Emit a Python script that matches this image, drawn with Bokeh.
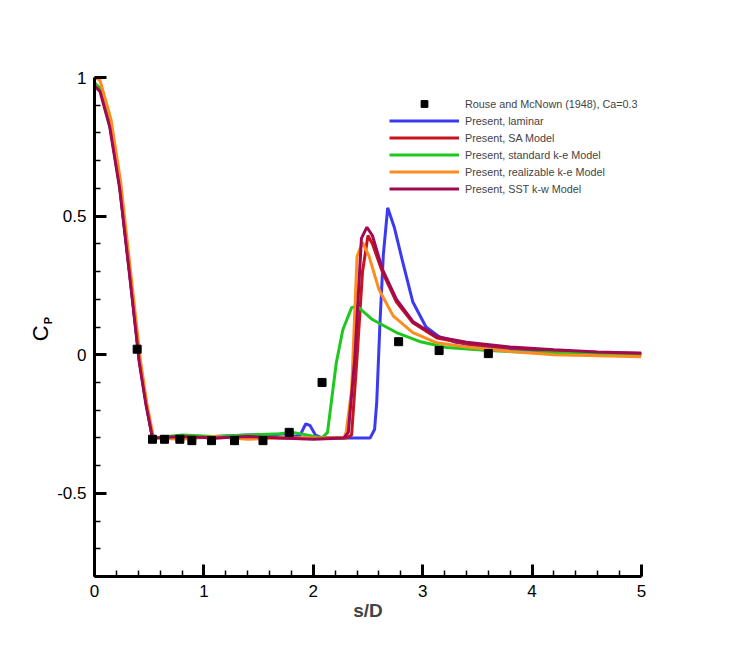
import math
from bokeh.plotting import figure
from bokeh.layouts import row
from bokeh.models import (Range1d, FixedTicker, Legend, LegendItem)
from bokeh.core.properties import value
from bokeh.embed import file_html
from bokeh.resources import INLINE

# ---------------- data ----------------
exp_s = [0.39, 0.53, 0.64, 0.78, 0.89, 1.07, 1.28, 1.54, 1.78, 2.08, 2.78, 3.15, 3.60]
exp_cp = [0.02, -0.305, -0.305, -0.305, -0.31, -0.31, -0.31, -0.31, -0.28, -0.10, 0.047, 0.015, 0.004]

lam_s = [0.0, 0.05, 0.14, 0.23, 0.32, 0.41, 0.47, 0.53, 0.8, 1.1, 1.4, 1.6, 1.75, 1.82, 1.88,
         1.93, 1.97, 2.02, 2.08, 2.3, 2.52, 2.56, 2.58, 2.61, 2.64, 2.68, 2.74, 2.82, 2.91,
         3.03, 3.15, 3.3, 3.6, 4.0, 4.5, 5.0]
lam_cp = [0.98, 0.96, 0.83, 0.61, 0.30, -0.02, -0.17, -0.30, -0.295, -0.295, -0.29, -0.29, -0.285,
          -0.295, -0.29, -0.25, -0.255, -0.29, -0.30, -0.30, -0.30, -0.27, -0.17, 0.12, 0.36, 0.53,
          0.46, 0.33, 0.19, 0.10, 0.065, 0.045, 0.025, 0.013, 0.007, 0.003]

sa_s = [0.0, 0.05, 0.14, 0.23, 0.32, 0.41, 0.47, 0.53, 0.8, 1.1, 1.4, 1.7, 2.0, 2.3, 2.35,
        2.40, 2.45, 2.50, 2.54, 2.63, 2.76, 2.91, 3.13, 3.4, 3.8, 4.2, 4.6, 5.0]
sa_cp = [0.98, 0.96, 0.83, 0.61, 0.30, -0.02, -0.17, -0.30, -0.295, -0.30, -0.295, -0.30, -0.30,
         -0.30, -0.29, -0.01, 0.30, 0.43, 0.40, 0.30, 0.19, 0.115, 0.06, 0.04, 0.025, 0.015,
         0.008, 0.005]

ke_s = [0.0, 0.05, 0.14, 0.23, 0.32, 0.41, 0.47, 0.53, 0.8, 1.1, 1.4, 1.7, 1.8, 1.95, 2.08,
        2.13, 2.21, 2.27, 2.35, 2.40, 2.54, 2.76, 2.97, 3.22, 3.6, 4.0, 4.5, 5.0]
ke_cp = [0.98, 0.96, 0.83, 0.61, 0.30, -0.02, -0.17, -0.30, -0.29, -0.295, -0.29, -0.285, -0.28,
         -0.29, -0.30, -0.28, -0.03, 0.09, 0.17, 0.175, 0.127, 0.08, 0.048, 0.026, 0.015,
         0.008, 0.004, 0.0]

rke_s = [0.0, 0.05, 0.15, 0.24, 0.33, 0.42, 0.48, 0.54, 0.8, 1.1, 1.4, 1.7, 2.0, 2.28, 2.30,
         2.35, 2.40, 2.45, 2.51, 2.60, 2.73, 2.91, 3.13, 3.4, 3.8, 4.2, 4.6, 5.0]
rke_cp = [1.0, 0.99, 0.85, 0.62, 0.30, -0.02, -0.18, -0.30, -0.305, -0.295, -0.305, -0.30, -0.30,
          -0.30, -0.28, -0.13, 0.355, 0.405, 0.355, 0.235, 0.14, 0.08, 0.043, 0.028, 0.012,
          0.0, -0.004, -0.007]

sst_s = [0.0, 0.05, 0.14, 0.23, 0.32, 0.41, 0.47, 0.53, 0.8, 1.1, 1.4, 1.7, 2.0, 2.28, 2.32,
         2.38, 2.44, 2.49, 2.54, 2.63, 2.76, 2.91, 3.13, 3.4, 3.8, 4.2, 4.6, 5.0]
sst_cp = [0.97, 0.95, 0.82, 0.60, 0.29, -0.03, -0.18, -0.30, -0.295, -0.30, -0.295, -0.30, -0.305,
          -0.30, -0.28, -0.01, 0.42, 0.46, 0.43, 0.31, 0.20, 0.12, 0.065, 0.045, 0.028, 0.018,
          0.01, 0.005]

x_ticks = [0, 1, 2, 3, 4, 5]
x_minor = [i / 5 for i in range(26)]
y_ticks = [-0.5, 0, 0.5, 1]
y_minor = [round(-0.8 + i / 10, 2) for i in range(19)]
y_tick_labels = {-0.5: "-0.5", 0: "0", 0.5: "0.5", 1: "1"}

labels = ["Rouse and McNown (1948), Ca=0.3", "Present, laminar", "Present, SA Model",
          "Present, standard k-e Model", "Present, realizable k-e Model",
          "Present, SST k-w Model"]
colors = ["#3a3af0", "#c8141e", "#1ec81e", "#ff8c1e", "#a00a50"]

# ---------------- layout ----------------
FONT = "Liberation Sans"
W, H = 715, 634
LW = 54          # width of the strip that carries the rotated y-axis title

# strip with the y-axis title "C" + subscript "P"
lab = figure(width=LW, height=H, output_backend="svg", toolbar_location=None,
             x_range=Range1d(0, LW), y_range=Range1d(0, H),
             x_axis_type=None, y_axis_type=None,
             min_border=0, min_border_left=0, min_border_right=0,
             min_border_top=0, min_border_bottom=0)
lab.outline_line_color = None
lab.xgrid.visible = False
lab.ygrid.visible = False
lab.background_fill_color = "white"
lab.border_fill_color = "white"
lab.text(x=[40], y=[H - 325], text=["C"], angle=math.pi / 2,
         text_align="center", text_baseline="middle",
         text_font=value(FONT), text_font_size=value("22px"), text_color="black")
lab.text(x=[47], y=[H - 309], text=["P"], angle=math.pi / 2,
         text_align="center", text_baseline="middle",
         text_font=value(FONT), text_font_size=value("11px"), text_font_style="bold",
         text_color="black")

p = figure(width=W - LW, height=H, output_backend="svg", toolbar_location=None,
           x_range=Range1d(0, 5), y_range=Range1d(-0.8, 1.0),
           min_border_left=94 - LW, min_border_right=74, min_border_top=77, min_border_bottom=58)
p.outline_line_color = None
p.xgrid.visible = False
p.ygrid.visible = False
p.background_fill_color = "white"
p.border_fill_color = "white"

for ax in (p.xaxis[0], p.yaxis[0]):
    ax.axis_line_width = 3
    ax.axis_line_color = "black"
    ax.major_tick_in = 12
    ax.major_tick_out = 0
    ax.minor_tick_in = 6
    ax.minor_tick_out = 0
    ax.major_tick_line_width = 3
    ax.minor_tick_line_width = 1.5
    ax.major_label_text_font = FONT
    ax.major_label_text_font_size = "17px"
    ax.major_label_text_color = "black"
    ax.major_label_standoff = 8

p.xaxis[0].ticker = FixedTicker(ticks=x_ticks, minor_ticks=x_minor)
p.yaxis[0].ticker = FixedTicker(ticks=y_ticks, minor_ticks=y_minor)
p.yaxis[0].major_label_overrides = y_tick_labels
p.xaxis[0].axis_label = "s/D"
p.xaxis[0].axis_label_text_font = FONT
p.xaxis[0].axis_label_text_font_size = "19px"
p.xaxis[0].axis_label_text_font_style = "bold"
p.xaxis[0].axis_label_standoff = 0

series = [(lam_s, lam_cp), (sa_s, sa_cp), (ke_s, ke_cp), (rke_s, rke_cp), (sst_s, sst_cp)]
renderers = []
for (xs, ys), c in zip(series, colors):
    r = p.line(xs, ys, line_color=c, line_width=3)
    renderers.append(r)

sq = p.scatter(exp_s, exp_cp, marker="square", size=8, fill_color="black", line_color="black")

items = [LegendItem(label=labels[0], renderers=[sq])]
for lab_txt, r in zip(labels[1:], renderers):
    items.append(LegendItem(label=lab_txt, renderers=[r]))

legend = Legend(items=items, location=(295, 379), padding=0, spacing=0,
                glyph_width=70, glyph_height=17, label_height=17, label_standoff=6,
                label_text_font=FONT, label_text_font_size="10.8px",
                border_line_alpha=0, background_fill_alpha=0, margin=0)
p.add_layout(legend)

layout = row(lab, p, spacing=0)
open("out.html", "w").write(file_html(layout, INLINE))
